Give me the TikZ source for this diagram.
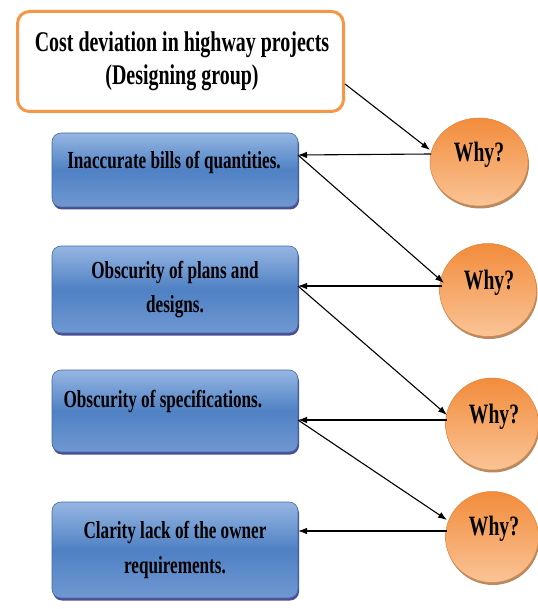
\documentclass[tikz,border=0pt]{standalone}
\usepackage{fontspec}
\setmainfont{Liberation Serif}[FakeStretch=0.7]
\usetikzlibrary{shapes.geometric,shadows,arrows.meta}
\definecolor{orgborder}{RGB}{247,150,70}
\definecolor{bluetop}{RGB}{150,182,226}
\definecolor{bluemid}{RGB}{79,129,196}
\definecolor{bluebot}{RGB}{112,152,210}
\definecolor{blueedge}{RGB}{65,105,165}
\definecolor{orgtop}{RGB}{242,140,60}
\definecolor{orgbot}{RGB}{250,196,150}
\definecolor{orgedge}{RGB}{225,130,60}
\tikzset{
  topbox/.style={draw=orgborder, line width=3pt, fill=white, rounded corners=12pt, minimum width=326pt, minimum height=100pt},
  bluebox/.style={draw=blueedge, line width=0.6pt, rounded corners=9pt, minimum width=246pt,
    top color=bluetop, bottom color=bluebot, middle color=bluemid,
    drop shadow={shadow xshift=1pt, shadow yshift=-2.5pt, fill=black!60!blue, opacity=0.7}},
  whynode/.style={ellipse, draw=orgedge, line width=0.5pt, top color=orgtop, bottom color=orgbot,
    drop shadow={shadow xshift=1pt, shadow yshift=-2.5pt, fill=black!50!orange, opacity=0.6}},
  btext/.style={font=\fontsize{24.5}{34}\selectfont\bfseries, align=center, text=black},
  wtext/.style={font=\fontsize{28}{30}\selectfont\bfseries, text=black},
  conn/.style={line width=1.1pt, -{Latex[length=9pt,width=6.5pt]}}
}
\begin{document}
\begin{tikzpicture}[x=1pt,y=-1pt]
\useasboundingbox (0,0) rectangle (537,609);
% top box
\node[topbox] (top) at (180.5,61.5) {};
\node[font=\fontsize{28.5}{33}\selectfont\bfseries, align=center] (toptext) at (182,61) {Cost deviation in highway projects\\(Designing group)};
% blue boxes
\node[bluebox, minimum height=74pt] (b1) at (175,170) {};
\node[btext] (t1) at (174,162) {Inaccurate bills of quantities.};
\node[bluebox, minimum height=87pt] (b2) at (175,289.5) {};
\node[btext] (t2) at (175,289.5) {Obscurity of plans and\\designs.};
\node[bluebox, minimum height=82pt] (b3) at (175,411) {};
\node[btext, anchor=west] (t3) at (60,402) {Obscurity of specifications.};
\node[bluebox, minimum height=96pt] (b4) at (175,550) {};
\node[btext, font=\fontsize{24.5}{35}\selectfont\bfseries] (t4) at (175,549.5) {Clarity lack of the owner\\requirements.};
% why circles
\node[whynode, minimum width=98pt, minimum height=88pt] (w1) at (479,162) {};
\node[wtext] (wt1) at (479,155) {Why?};
\node[whynode, minimum width=97pt, minimum height=93pt] (w2) at (488,290) {};
\node[wtext] (wt2) at (489,283) {Why?};
\node[whynode, minimum width=93pt, minimum height=92pt] (w3) at (492,424) {};
\node[wtext] (wt3) at (494,417) {Why?};
\node[whynode, minimum width=93pt, minimum height=91pt] (w4) at (492,537) {};
\node[wtext] (wt4) at (494,529) {Why?};
% connector points
\coordinate (topout) at (345,84);
\coordinate (w1in) at (430,150);
\coordinate (w1out) at (431,154);
\coordinate (b1in) at (298,155);
\coordinate (w2in) at (444,283);
\coordinate (w2out) at (442,286);
\coordinate (b2in) at (298,286);
\coordinate (w3in) at (447,415);
\coordinate (w3out) at (447,420);
\coordinate (b3in) at (298,420);
\coordinate (w4in) at (447,520);
\coordinate (w4out) at (447,531);
\coordinate (b4in) at (298,531);
% connectors
\draw[conn] (topout) -- (w1in);
\draw[conn] (w1out) -- (b1in);
\draw[conn] (b1in) -- (w2in);
\draw[conn] (w2out) -- (b2in);
\draw[conn] (b2in) -- (w3in);
\draw[conn] (w3out) -- (b3in);
\draw[conn] (b3in) -- (w4in);
\draw[conn] (w4out) -- (b4in);
\end{tikzpicture}
\end{document}
